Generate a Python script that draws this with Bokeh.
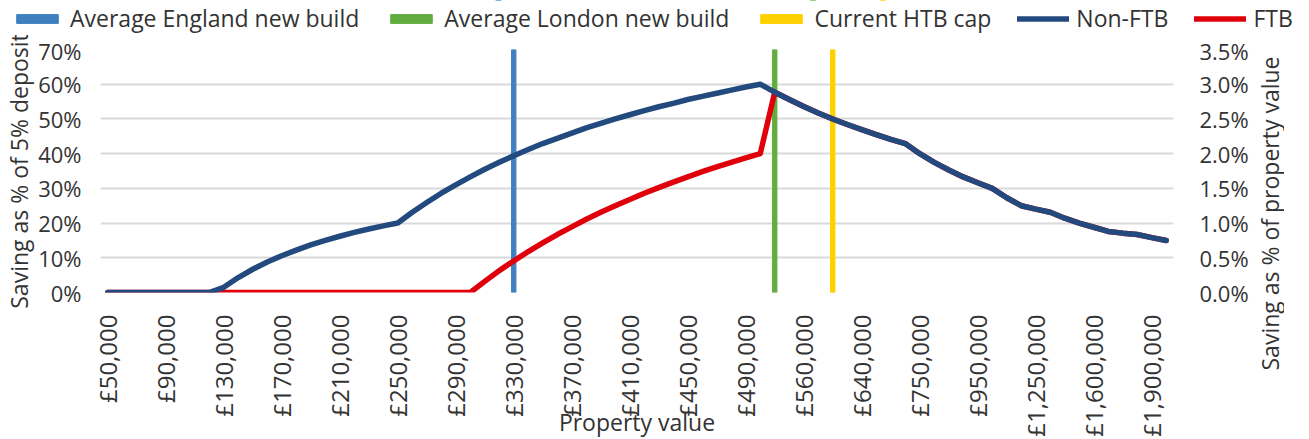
from bokeh.plotting import figure
from bokeh.models import (Range1d, LinearAxis, FixedTicker, PrintfTickFormatter,
                          Legend, LegendItem, Label)
from bokeh.layouts import column, row
from bokeh.embed import file_html
from bokeh.resources import INLINE
import math

# ---------------- data ----------------
property_values = [
    50000, 60000, 70000, 80000, 90000, 100000, 110000, 120000, 130000, 140000,
    150000, 160000, 170000, 180000, 190000, 200000, 210000, 220000, 230000, 240000,
    250000, 260000, 270000, 280000, 290000, 300000, 310000, 320000, 330000, 340000,
    350000, 360000, 370000, 380000, 390000, 400000, 410000, 420000, 430000, 440000,
    450000, 460000, 470000, 480000, 490000, 500000, 520000, 540000, 560000, 580000,
    600000, 620000, 640000, 660000, 680000, 700000, 750000, 800000, 850000, 900000,
    950000, 1000000, 1100000, 1200000, 1250000, 1300000, 1400000, 1500000, 1600000,
    1700000, 1750000, 1800000, 1900000, 2000000,
]

non_ftb = [
    0, 0, 0, 0, 0, 0, 0, 0, 1.5, 4.3,
    6.7, 8.8, 10.6, 12.2, 13.7, 15.0, 16.2, 17.3, 18.3, 19.2,
    20.0, 23.1, 25.9, 28.6, 31.0, 33.3, 35.5, 37.5, 39.4, 41.2,
    42.9, 44.4, 45.9, 47.4, 48.7, 50.0, 51.2, 52.4, 53.5, 54.5,
    55.6, 56.5, 57.4, 58.3, 59.2, 60.0, 57.7, 55.6, 53.6, 51.7,
    50.0, 48.4, 46.9, 45.5, 44.1, 42.9, 40.0, 37.5, 35.3, 33.3,
    31.6, 30.0, 27.3, 25.0, 24.0, 23.1, 21.4, 20.0, 18.8,
    17.6, 17.1, 16.7, 15.8, 15.0,
]

ftb = [
    0, 0, 0, 0, 0, 0, 0, 0, 0, 0,
    0, 0, 0, 0, 0, 0, 0, 0, 0, 0,
    0, 0, 0, 0, 0, 0, 3.2, 6.3, 9.1, 11.8,
    14.3, 16.7, 18.9, 21.1, 23.1, 25.0, 26.8, 28.6, 30.2, 31.8,
    33.3, 34.8, 36.2, 37.5, 38.8, 40.0, 57.7, 55.6, 53.6, 51.7,
    50.0, 48.4, 46.9, 45.5, 44.1, 42.9, 40.0, 37.5, 35.3, 33.3,
    31.6, 30.0, 27.3, 25.0, 24.0, 23.1, 21.4, 20.0, 18.8,
    17.6, 17.1, 16.7, 15.8, 15.0,
]

avg_england_new_build = 330000
avg_london_new_build = 520000
current_htb_cap = 600000

series_names = ["Average England new build", "Average London new build",
                "Current HTB cap", "Non-FTB", "FTB"]
series_colors = ["#3E80C0", "#62AC40", "#FFD000", "#234A7E", "#E0000B"]

left_ticks = [0, 10, 20, 30, 40, 50, 60, 70]
right_ticks = [0.0, 0.5, 1.0, 1.5, 2.0, 2.5, 3.0, 3.5]
label_every = 4

FONT = "Open Sans"
TXT = "#333333"

n = len(property_values)
xs = list(range(n))
marker_vals = [avg_england_new_build, avg_london_new_build, current_htb_cap]


def draw_series(fig):
    """Draw the three markers and two lines on fig; return renderers in legend order."""
    rs = []
    for val, col in zip(marker_vals, series_colors[:3]):
        rs.append(fig.vbar(x=[property_values.index(val)], top=[left_ticks[-1]],
                           bottom=0, width=0.3, color=col))
    r_ftb = fig.line(xs, ftb, line_color=series_colors[4], line_width=5.5,
                     line_join="round", line_cap="round")
    r_non = fig.line(xs, non_ftb, line_color=series_colors[3], line_width=5.5,
                     line_join="round", line_cap="round")
    return rs + [r_non, r_ftb]


# ---------------- main plot ----------------
TOP, FH = 14, 243
p = figure(frame_width=1073, frame_height=FH, output_backend="svg",
           toolbar_location=None,
           x_range=Range1d(-0.5, n - 0.5), y_range=Range1d(left_ticks[0], left_ticks[-1]),
           min_border_left=98, min_border_right=81, min_border_top=TOP,
           min_border_bottom=138)
p.outline_line_color = None
p.background_fill_color = "white"
p.border_fill_color = "white"
p.xgrid.visible = False
p.ygrid.grid_line_color = "#D9D9D9"
p.ygrid.grid_line_width = 2

draw_series(p)

xa = p.xaxis[0]
xa.ticker = FixedTicker(ticks=[i for i in xs if i % label_every == 0])
xa.major_label_overrides = {i: f"£{v:,}" for i, v in enumerate(property_values)
                            if i % label_every == 0}
xa.major_label_orientation = math.pi / 2
xa.axis_label = "Property value"

ya = p.yaxis[0]
ya.ticker = FixedTicker(ticks=left_ticks)
ya.formatter = PrintfTickFormatter(format="%d%%")
ya.axis_label = "Saving as % of 5% deposit"

p.extra_y_ranges = {"pv": Range1d(right_ticks[0], right_ticks[-1])}
ra = LinearAxis(y_range_name="pv", ticker=FixedTicker(ticks=right_ticks),
                formatter=PrintfTickFormatter(format="%.1f%%"))
p.add_layout(ra, "right")

for ax in [xa, ya, ra]:
    ax.axis_line_color = None
    ax.major_tick_line_color = None
    ax.minor_tick_line_color = None
    ax.major_label_text_font = FONT
    ax.major_label_text_font_size = "22px"
    ax.major_label_text_color = TXT
    ax.axis_label_text_font = FONT
    ax.axis_label_text_font_size = "23px"
    ax.axis_label_text_font_style = "normal"
    ax.axis_label_text_color = TXT
xa.major_label_text_font_size = "24px"
xa.major_label_standoff = 16
xa.axis_label_standoff = -34
ya.major_label_standoff = 13
ya.axis_label_standoff = 0
ra.major_label_standoff = 20

# ---------------- right-hand axis title ----------------
TH = 380
tfig = figure(width=30, height=TH, output_backend="svg", toolbar_location=None,
              x_axis_type=None, y_axis_type=None, min_border=0,
              x_range=Range1d(0, 30), y_range=Range1d(0, TH))
tfig.outline_line_color = None
try:
    tfig.frame_align = False
except Exception:
    pass
tfig.add_layout(Label(x=15, y=TH - 178, x_units="data", y_units="data",
                      text="Saving as % of property value", angle=math.pi / 2,
                      text_align="center", text_baseline="middle",
                      text_font=FONT, text_font_size="23px", text_color=TXT), "center")

# ---------------- legend strip (same series, drawn out of its view) ----------------
LH = 35
lfig = figure(width=1293, height=LH, output_backend="svg", toolbar_location=None,
              x_axis_type=None, y_axis_type=None, min_border=0,
              x_range=Range1d(-0.5, n - 0.5), y_range=Range1d(-300, -200))
lfig.outline_line_color = None
leg_renderers = draw_series(lfig)
legend = Legend(items=[LegendItem(label=nm, renderers=[r])
                       for nm, r in zip(series_names, leg_renderers)],
                orientation="horizontal", location=(11, 1))
legend.label_text_font = FONT
legend.label_text_font_size = "23px"
legend.label_text_color = TXT
legend.glyph_width = 52
legend.glyph_height = 11
legend.label_standoff = 7
legend.label_height = 20
legend.spacing = 26
legend.padding = 0
legend.margin = 0
legend.border_line_color = None
legend.background_fill_alpha = 0
lfig.add_layout(legend, "center")

layout = column(lfig, row(p, tfig))
open("out.html", "w").write(file_html(layout, INLINE))
